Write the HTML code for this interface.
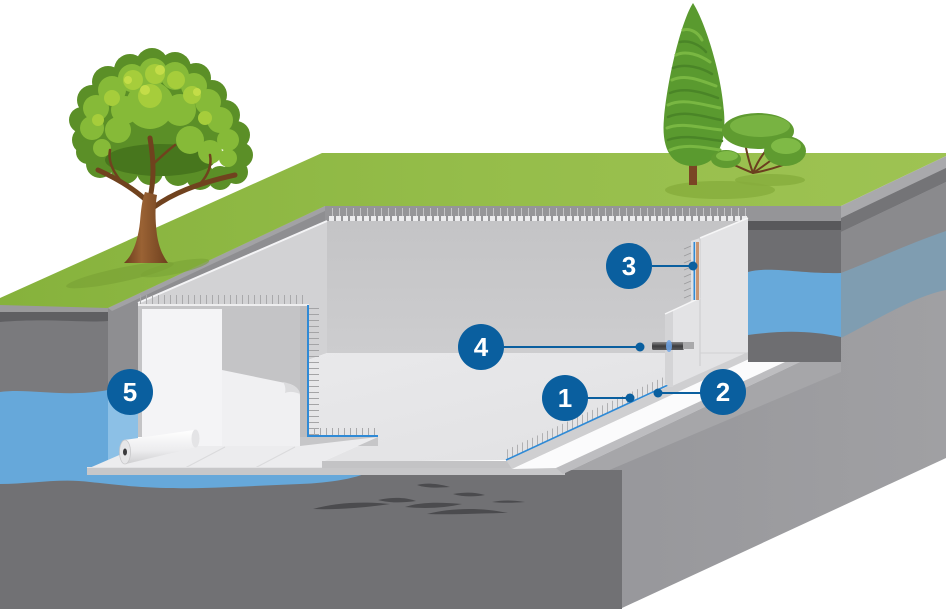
<!DOCTYPE html>
<html>
<head>
<meta charset="utf-8">
<style>
  html,body{margin:0;padding:0;background:#fff;}
  svg{display:block;}
  .lbl{font-family:"Liberation Sans",Arial,sans-serif;font-weight:bold;font-size:26px;fill:#fff;}
</style>
</head>
<body>
<svg width="946" height="609" viewBox="0 0 946 609" xmlns="http://www.w3.org/2000/svg">
  <defs>
    <linearGradient id="grass" x1="0" y1="0" x2="1" y2="0">
      <stop offset="0" stop-color="#86b23c"/>
      <stop offset="0.5" stop-color="#95bd4a"/>
      <stop offset="1" stop-color="#9ec353"/>
    </linearGradient>
    <linearGradient id="backwall" x1="0" y1="0" x2="0" y2="1">
      <stop offset="0" stop-color="#c4c4c6"/>
      <stop offset="1" stop-color="#cdcdcf"/>
    </linearGradient>
    <linearGradient id="floorg" x1="0" y1="0" x2="1" y2="1">
      <stop offset="0" stop-color="#e9e9eb"/>
      <stop offset="1" stop-color="#e0e0e2"/>
    </linearGradient>
    <linearGradient id="pipe" x1="0" y1="0" x2="0" y2="1">
      <stop offset="0" stop-color="#8a8a8c"/>
      <stop offset="0.5" stop-color="#3c3c3e"/>
      <stop offset="1" stop-color="#5a5a5c"/>
    </linearGradient>
    <linearGradient id="roll" x1="0" y1="0" x2="0" y2="1">
      <stop offset="0" stop-color="#ffffff"/>
      <stop offset="0.6" stop-color="#ececee"/>
      <stop offset="1" stop-color="#cfcfd1"/>
    </linearGradient>
    <linearGradient id="rface" x1="0" y1="0" x2="1" y2="0">
      <stop offset="0" stop-color="#96969a"/>
      <stop offset="1" stop-color="#a0a0a3"/>
    </linearGradient>
    <linearGradient id="trunk" x1="0" y1="0" x2="1" y2="0">
      <stop offset="0" stop-color="#6b3d1c"/>
      <stop offset="0.4" stop-color="#9a6234"/>
      <stop offset="1" stop-color="#6e401e"/>
    </linearGradient>
    <pattern id="vt" width="6" height="20" patternUnits="userSpaceOnUse">
      <rect x="2" y="0" width="1" height="20" fill="#a9a9ab"/>
    </pattern>
    <pattern id="vt2" width="5" height="20" patternUnits="userSpaceOnUse">
      <rect x="2" y="0" width="1" height="20" fill="#b0b0b2"/>
    </pattern>
    <pattern id="ht" width="20" height="6" patternUnits="userSpaceOnUse">
      <rect x="0" y="2" width="20" height="1" fill="#a4a4a6"/>
    </pattern>
    <pattern id="blocks" width="7" height="6" patternUnits="userSpaceOnUse">
      <rect x="0" y="0" width="5" height="6" fill="#ececee"/>
    </pattern>
    <pattern id="tbt" width="7" height="10" patternUnits="userSpaceOnUse">
      <rect x="3" y="0" width="1" height="10" fill="#c4c4c6"/>
    </pattern>
  </defs>

  <!-- right side face -->
  <polygon points="563,474 800,362 841,362 841,218 946,166 946,458 622,608 622,474" fill="url(#rface)"/>
  <polygon points="841,206 946,156 946,168 841,218" fill="#a9a9ac"/>
  <polygon points="841,218 946,168 946,182 841,232" fill="#747477"/>
  <polygon points="841,232 946,182 946,232 841,273" fill="#8a8a8d"/>
  <path d="M841,273 C870,262 905,245 946,231 L946,290 C915,296 880,318 841,338 Z" fill="#7f9db1"/>
  <polygon points="800,362 841,362 841,372 600,474 563,474" fill="#a6a6a9"/>

  <!-- front lower face -->
  <rect x="0" y="470" width="622" height="139" fill="#717174"/>
  <!-- front upper-left face -->
  <polygon points="0,305 108,308 108,474 0,474" fill="#7a7a7d"/>
  <rect x="0" y="305" width="108" height="7" fill="#9a9a9c"/>
  <path d="M0,312 L108,312 L108,321 C80,323 50,318 0,322 Z" fill="#5f5f62"/>

  <!-- water -->
  <path d="M0,392 C30,388 65,398 108,390 L108,470 L373,470 C360,478 330,483 300,484 C250,486 200,489 166,488 C130,487 110,484 90,482 C60,478 30,484 0,484 Z" fill="#66a8da"/>

  <!-- dark blobs -->
  <g fill="#4b4b4e">
    <path d="M313,509 C335,503 360,501 390,504 C370,507 340,510 313,509 Z"/>
    <path d="M378,500 C392,497 405,497 416,501 C402,503 390,503 378,500 Z"/>
    <path d="M405,507 C420,502 440,502 462,504 C445,508 425,509 405,507 Z"/>
    <path d="M427,514 C450,508 480,507 508,513 C485,513 455,515 427,514 Z"/>
    <path d="M453,494 C465,492 475,492 485,495 C475,497 463,497 453,494 Z"/>
    <path d="M492,502 C502,500 512,500 525,502 C512,503 502,503 492,502 Z"/>
    <path d="M417,485 C425,483 435,483 450,487 C437,488 425,488 417,485 Z"/>
  </g>

  <!-- pit edge band / wall section left -->
  <polygon points="108,308 325,206 327,206 327,221 138,303 138,392 108,392" fill="#8e8e91"/>
  <polygon points="108,308 325,206 327,210 112,311" fill="#a2a2a5"/>
  <rect x="108" y="390" width="30" height="80" fill="#8cc0e6"/>

  <!-- grass -->
  <polygon points="0,298 322,153 946,153 946,156 841,206 325,206 108,308 0,305" fill="url(#grass)"/>
  <!-- grass shadows -->
  <ellipse cx="120" cy="275" rx="55" ry="7" fill="#7aa336" opacity="0.7" transform="rotate(-12 120 275)"/>
  <ellipse cx="175" cy="268" rx="35" ry="6" fill="#7aa336" opacity="0.6" transform="rotate(-12 175 268)"/>
  <ellipse cx="720" cy="190" rx="55" ry="9" fill="#86ad3c" opacity="0.8"/>
  <ellipse cx="770" cy="180" rx="35" ry="6" fill="#86ad3c" opacity="0.8"/>

  <!-- top band of back wall -->
  <rect x="325" y="206" width="516" height="15" fill="#959598"/>
  <rect x="327" y="208" width="420" height="9" fill="url(#tbt)"/>
  <rect x="327" y="216" width="420" height="5" fill="url(#blocks)"/>

  <!-- back wall -->
  <rect x="327" y="221" width="421" height="132" fill="url(#backwall)"/>

  <!-- left wall -->
  <polygon points="138,303 327,221 327,353 308,360 308,305 138,305" fill="#d2d2d4"/>
  <line x1="138" y1="303" x2="327" y2="221" stroke="#f4f4f6" stroke-width="2"/>

  <!-- floor -->
  <polygon points="308,360 327,353 748,353 748,352 670,386 506,460 322,462 378,437 308,437" fill="url(#floorg)"/>

  <!-- left cutout -->
  <rect x="138" y="305" width="170" height="132" fill="#c4c4c6"/>
  <rect x="142" y="309" width="80" height="137" fill="#f4f4f6"/>
  <path d="M222,370 L290,384 C296,386 300,390 300,396 L300,446 L222,446 Z" fill="#f0f0f2"/>
  <path d="M283,382 C292,384 299,387 300,394 C295,392 290,391 285,393 C286,389 285,385 283,382 Z" fill="#dcdcde"/>
  <rect x="300" y="305" width="8" height="132" fill="#bcbcbe"/>
  <rect x="140" y="295" width="168" height="9" fill="url(#vt)"/>
  <rect x="138" y="304" width="171" height="2" fill="#eeeeef"/>
  <rect x="309" y="305" width="10" height="130" fill="url(#ht)"/>
  <rect x="307" y="305" width="2" height="132" fill="#2f8ad6"/>
  <rect x="311" y="428" width="67" height="8" fill="url(#vt)"/>
  <rect x="307" y="435" width="71" height="2" fill="#2f8ad6"/>
  <polygon points="300,437 378,437 378,446 300,446" fill="#c6c6c8"/>

  <!-- left sheet on slab -->
  <polygon points="87,469 140,446 300,446 378,437 322,462 322,469" fill="#ececee"/>
  <line x1="185" y1="468" x2="225" y2="447" stroke="#dadadc" stroke-width="1"/>
  <line x1="255" y1="468" x2="295" y2="447" stroke="#dadadc" stroke-width="1"/>

  <!-- slab front strip -->
  <polygon points="87,467 565,467 565,475 87,475" fill="#c7c7c9"/>
  <rect x="87" y="467" width="478" height="1" fill="#e2e2e4"/>
  <polygon points="322,461 512,461 512,468 322,468" fill="#c3c3c5"/>

  <!-- slab right edge -->
  <polygon points="506,460 748,350 760,354 512,469" fill="#cfcfd1"/>
  <polygon points="512,469 760,354 798,356 556,468" fill="#fbfbfc"/>
  <polygon points="556,468 798,356 800,362 563,474" fill="#bdbdc0"/>

  <!-- right cut section -->
  <rect x="748" y="206" width="93" height="15" fill="#959598"/>
  <rect x="748" y="221" width="93" height="9" fill="#58585b"/>
  <rect x="748" y="230" width="93" height="132" fill="#6e6e71"/>
  <path d="M748,272 C770,266 800,274 841,273 L841,337 C812,331 785,330 748,335 Z" fill="#67a9da"/>

  <!-- rebar ticks along item 1 -->
  <polygon points="506,460 668,385 668,375 506,450" fill="url(#vt2)"/>
  <line x1="506" y1="460" x2="668" y2="385" stroke="#2f8ad6" stroke-width="1.6"/>

  <!-- right wall -->
  <polygon points="691,241 700,238 748,218 748,352 670,387 665,384 665,314 691,301" fill="#e3e3e5"/>
  <polygon points="665,314 673,310 673,387 670,387 665,384" fill="#d4d4d6"/>
  <line x1="700" y1="238" x2="700" y2="366" stroke="#cbcbcd" stroke-width="1"/>
  <line x1="700" y1="353" x2="748" y2="353" stroke="#d2d2d4" stroke-width="1"/>
  <line x1="700" y1="238" x2="748" y2="218" stroke="#f6f6f7" stroke-width="1.5"/>
  <line x1="665" y1="314" x2="700" y2="298" stroke="#f6f6f7" stroke-width="1.5"/>
  <rect x="691" y="241" width="9" height="59" fill="#e0e0e2"/>
  <rect x="696" y="242" width="3" height="58" fill="#c99572"/>
  <rect x="693.5" y="242" width="1.6" height="58" fill="#2f8ad6"/>
  <g stroke="#9a9a9c" stroke-width="0.8">
    <line x1="684" y1="249" x2="691" y2="246"/>
    <line x1="684" y1="256" x2="691" y2="253"/>
    <line x1="684" y1="263" x2="691" y2="260"/>
    <line x1="684" y1="270" x2="691" y2="267"/>
    <line x1="684" y1="277" x2="691" y2="274"/>
    <line x1="684" y1="284" x2="691" y2="281"/>
    <line x1="684" y1="291" x2="691" y2="288"/>
    <line x1="684" y1="298" x2="691" y2="295"/>
  </g>

  <!-- pipe -->
  <rect x="652" y="342" width="32" height="8" rx="1.5" fill="url(#pipe)"/>
  <rect x="683" y="342" width="11" height="7" fill="#a9a9ab"/>
  <ellipse cx="669" cy="346" rx="3" ry="6" fill="#6fa6ea" opacity="0.85"/>

  <!-- roll -->
  <polygon points="124,440 194,430 197,447 126,464" fill="url(#roll)"/>
  <ellipse cx="195.5" cy="438.5" rx="4" ry="9" fill="#e4e4e6"/>
  <ellipse cx="125" cy="452" rx="5.5" ry="12" fill="#e6e6e8" stroke="#c8c8ca" stroke-width="0.8"/>
  <ellipse cx="125" cy="452" rx="2" ry="3.5" fill="#3a3a3c"/>

  <!-- left tree -->
  <g>
    <!-- dark base silhouette -->
    <g fill="#5b8f27">
      <ellipse cx="160" cy="125" rx="68" ry="50"/>
      <circle cx="86" cy="140" r="14"/><circle cx="82" cy="120" r="13"/>
      <circle cx="92" cy="100" r="15"/><circle cx="108" cy="82" r="16"/>
      <circle cx="130" cy="70" r="16"/><circle cx="152" cy="64" r="16"/>
      <circle cx="175" cy="68" r="16"/><circle cx="196" cy="78" r="15"/>
      <circle cx="212" cy="95" r="15"/><circle cx="225" cy="115" r="15"/>
      <circle cx="236" cy="135" r="14"/><circle cx="240" cy="155" r="13"/>
      <circle cx="236" cy="172" r="12"/><circle cx="220" cy="178" r="12"/>
      <circle cx="200" cy="176" r="14"/><circle cx="178" cy="172" r="14"/>
      <circle cx="150" cy="172" r="13"/><circle cx="125" cy="170" r="14"/>
      <circle cx="100" cy="164" r="14"/><circle cx="88" cy="152" r="12"/>
    </g>
    <!-- darker underside -->
    <ellipse cx="160" cy="160" rx="55" ry="16" fill="#47761d"/>
    <!-- mid layer -->
    <g fill="#86ba38">
      <circle cx="92" cy="128" r="12"/><circle cx="96" cy="108" r="13"/>
      <circle cx="112" cy="90" r="14"/><circle cx="132" cy="78" r="14"/>
      <circle cx="153" cy="72" r="14"/><circle cx="175" cy="76" r="14"/>
      <circle cx="194" cy="86" r="13"/><circle cx="208" cy="102" r="13"/>
      <circle cx="220" cy="120" r="13"/><circle cx="228" cy="140" r="11"/>
      <circle cx="228" cy="158" r="9"/><circle cx="210" cy="152" r="12"/>
      <circle cx="190" cy="140" r="14"/><circle cx="150" cy="105" r="24"/>
      <circle cx="118" cy="130" r="13"/><circle cx="102" cy="148" r="9"/>
      <circle cx="180" cy="110" r="16"/><circle cx="125" cy="110" r="14"/>
    </g>
    <!-- light highlights -->
    <g fill="#a6cd3b">
      <circle cx="133" cy="80" r="10"/><circle cx="155" cy="74" r="10"/>
      <circle cx="176" cy="80" r="9"/><circle cx="192" cy="95" r="9"/>
      <circle cx="112" cy="98" r="8"/><circle cx="150" cy="96" r="12"/>
      <circle cx="205" cy="118" r="7"/><circle cx="98" cy="120" r="6"/>
    </g>
    <g fill="#c4dd48">
      <circle cx="160" cy="70" r="5"/><circle cx="197" cy="92" r="4"/>
      <circle cx="128" cy="80" r="4"/><circle cx="145" cy="90" r="5"/>
    </g>
    <!-- branches -->
    <g fill="none" stroke="#70421e" stroke-linecap="round">
      <path d="M146,200 C135,190 120,180 98,170" stroke-width="5"/>
      <path d="M150,198 C154,180 154,162 150,138" stroke-width="5"/>
      <path d="M154,207 C172,194 195,184 235,175" stroke-width="5"/>
      <path d="M120,180 C112,170 108,160 110,150" stroke-width="2.5"/>
      <path d="M200,184 C208,175 212,165 210,155" stroke-width="2.5"/>
      <path d="M152,165 C160,158 168,150 175,145" stroke-width="2.5"/>
    </g>
    <!-- trunk -->
    <path d="M124,263 C133,255 138,240 140,222 C141,210 142,200 145,192 L157,195 C155,206 155,220 157,235 C159,248 163,256 168,263 Z" fill="url(#trunk)"/>
  </g>

  <!-- cypress -->
  <g>
    <rect x="689" y="155" width="8" height="30" fill="#7a4524"/>
    <path d="M693,3 C682,20 668,75 664,118 C661,150 672,166 693,166 C713,166 727,150 724,112 C721,70 704,20 693,3 Z" fill="#5a9a2f"/>
    <g fill="none" stroke="#79b742" stroke-width="3" stroke-linecap="round">
      <path d="M683,30 C690,28 698,32 702,40"/>
      <path d="M676,55 C686,50 700,55 710,62"/>
      <path d="M672,80 C685,74 700,80 716,86"/>
      <path d="M668,105 C682,98 700,104 720,108"/>
      <path d="M667,128 C682,122 700,128 722,130"/>
      <path d="M670,150 C686,143 705,148 720,150"/>
    </g>
    <g fill="none" stroke="#4a8527" stroke-width="2.5" stroke-linecap="round">
      <path d="M680,42 C690,40 700,45 706,52"/>
      <path d="M673,68 C686,63 702,68 712,74"/>
      <path d="M670,93 C684,87 702,92 718,98"/>
      <path d="M668,117 C684,110 702,116 721,120"/>
      <path d="M668,140 C684,134 704,139 722,141"/>
    </g>
  </g>

  <!-- bush tree -->
  <g>
    <g fill="none" stroke="#6b3f1f" stroke-width="2" stroke-linecap="round">
      <path d="M753,173 C745,170 735,165 722,160"/>
      <path d="M753,173 C750,165 748,158 746,148"/>
      <path d="M753,173 C757,162 762,155 768,148"/>
      <path d="M753,173 C770,170 785,165 800,158"/>
      <path d="M753,173 C765,165 775,158 782,150"/>
    </g>
    <ellipse cx="758" cy="131" rx="36" ry="18" fill="#5f9b30"/>
    <ellipse cx="760" cy="126" rx="30" ry="11" fill="#78b342"/>
    <ellipse cx="726" cy="159" rx="15" ry="9" fill="#5f9b30"/>
    <ellipse cx="727" cy="156" rx="11" ry="5" fill="#7fba46"/>
    <ellipse cx="785" cy="151" rx="21" ry="15" fill="#5f9b30"/>
    <ellipse cx="786" cy="146" rx="15" ry="8" fill="#7fba46"/>
  </g>

  <!-- labels -->
  <g>
    <line x1="652" y1="266" x2="693" y2="266" stroke="#0a5f9f" stroke-width="2"/>
    <circle cx="693" cy="266" r="4.5" fill="#0a5f9f"/>
    <circle cx="629" cy="266" r="23" fill="#0a5f9f"/>
    <text x="629" y="275" text-anchor="middle" class="lbl">3</text>

    <line x1="500" y1="347" x2="640" y2="347" stroke="#0a5f9f" stroke-width="2"/>
    <circle cx="640" cy="347" r="4.5" fill="#0a5f9f"/>
    <circle cx="481" cy="347" r="23" fill="#0a5f9f"/>
    <text x="481" y="356" text-anchor="middle" class="lbl">4</text>

    <line x1="585" y1="398" x2="630" y2="398" stroke="#0a5f9f" stroke-width="2"/>
    <circle cx="630" cy="398" r="4.5" fill="#0a5f9f"/>
    <circle cx="565" cy="398" r="23" fill="#0a5f9f"/>
    <text x="565" y="407" text-anchor="middle" class="lbl">1</text>

    <line x1="658" y1="393" x2="705" y2="393" stroke="#0a5f9f" stroke-width="2"/>
    <circle cx="658" cy="393" r="4.5" fill="#0a5f9f"/>
    <circle cx="723" cy="392" r="23" fill="#0a5f9f"/>
    <text x="723" y="401" text-anchor="middle" class="lbl">2</text>

    <circle cx="130" cy="392" r="23" fill="#0a5f9f"/>
    <text x="130" y="401" text-anchor="middle" class="lbl">5</text>
  </g>
</svg>
</body>
</html>
